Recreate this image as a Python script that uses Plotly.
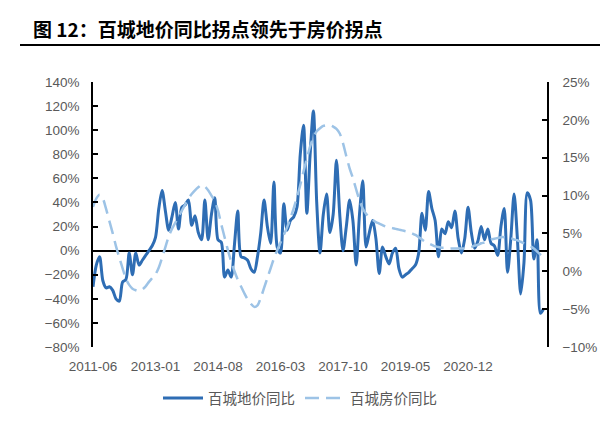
import pandas as pd
import plotly.graph_objects as go

# Monthly categories 2011-06 .. 2022-11
months = list(pd.date_range("2011-06-01", periods=138, freq="MS").strftime("%Y-%m"))
tick_labels = ["2011-06", "2013-01", "2014-08", "2016-03", "2017-10", "2019-05", "2020-12"]

# 百城地价同比 (left axis, %)
land_yoy = [
    -30, -12, -5, -25, -31, -30, -33, -40, -42, -26,
    -24, -2, -20, -2, -12, -8, -4, 0, 4, 11,
    35, 50, 33, 17, 28, 40, 18, 36, 38, 42,
    21, 29, 15, 9, 42, 9, 30, 44, 9, 7,
    -22, -16, -22, 5, 33, -5, -6, -8, -15, -18,
    -5, 15, 42, 20, 6, 57, 3, -2, 39, 17,
    25, 28, 36, 80, 104, 31, 80, 116, 40, -2,
    30, 47, 15, 30, 75, 30, 0, 20, 42, 25,
    -12, 30, 58, 3, 15, 25, 10, -19, 3, -5,
    -11, -2, 2, -15, -22, -20, -18, -15, -12, -2,
    31, 17, 49, 35, 25, -5, 18, 14, 24, 19,
    33, 10, -2, 10, 36, 15, 2, 8, 20, 9,
    18, 6, 4, -4, 20, 35, -18, 10, 47, 10,
    -36, -10, 48, 42, -7, 9, -52, -48,
]

# 百城房价同比 (right axis, %)
house_yoy = [
    8.5, 9.6, 10.1, 9.6, 8.2, 6.6, 5.0, 3.3, 1.8, 0.4,
    -1.0, -1.8, -2.3, -2.5, -2.6, -2.4, -2.0, -1.4, -0.9, -0.4,
    0.5, 1.8, 3.2, 4.6, 5.6, 6.4, 7.2, 8.0, 8.8, 9.6,
    10.2, 10.7, 11.1, 11.4, 11.2, 10.7, 10.0, 9.3, 8.0, 6.2,
    4.5, 2.8, 1.3, 0.0, -1.1, -2.0, -2.9, -3.7, -4.3, -4.7,
    -4.5, -3.5, -2.2, -0.9, 0.4, 1.7, 2.8, 3.8, 4.8, 5.8,
    7.0, 8.3, 9.8, 11.4, 13.2, 14.9, 16.5, 17.7, 18.5, 18.9,
    19.2, 19.3, 19.3, 19.1, 18.8, 18.2, 16.9, 15.2, 13.6, 12.3,
    10.8, 9.4, 8.3, 7.6, 7.1, 6.8, 6.5, 6.3, 6.1, 5.9,
    5.8, 5.7, 5.6, 5.5, 5.4, 5.3, 5.2, 5.0, 4.8, 4.5,
    4.2, 3.9, 3.7, 3.5, 3.3, 3.2, 3.1, 3.1, 3.0, 3.0,
    3.0, 3.0, 3.0, 3.0, 3.1, 3.2, 3.4, 3.5, 3.7, 3.8,
    4.0, 4.2, 4.3, 4.4, 4.5, 4.5, 4.4, 4.4, 4.2, 4.1,
    3.9, 3.7, 3.5, 3.3, 3.0, 2.6, 2.2, 1.8,
]

land_name = "百城地价同比"
house_name = "百城房价同比"
title_text = "图 12：百城地价同比拐点领先于房价拐点"

GRAY = "#595959"
LAT = "Liberation Sans, Arial, Noto Sans CJK SC"
CJK = "Noto Sans CJK SC, sans-serif"

fig = go.Figure()
fig.add_trace(go.Scatter(
    x=months, y=land_yoy, name=land_name, mode="lines",
    line=dict(color="#2E6DB4", width=3, shape="spline", smoothing=0.8),
    yaxis="y",
))
fig.add_trace(go.Scatter(
    x=months, y=house_yoy, name=house_name, mode="lines",
    line=dict(color="#9DC3E6", width=2.5, dash="14px,7px", shape="spline", smoothing=0.8),
    yaxis="y2",
))

L, R, T, B = 93, 53, 82, 93
W, H = 600, 440
pw, ph = W - L - R, H - T - B

def px_x(p):
    return (p - L) / pw

def px_y(p):
    return (H - B - p) / ph

fig.update_layout(
    width=W, height=H,
    margin=dict(l=L, r=R, t=T, b=B, pad=0, autoexpand=False),
    paper_bgcolor="white", plot_bgcolor="white",
    font=dict(family=LAT, size=13.5, color=GRAY),
    showlegend=True,
    legend=dict(
        orientation="h", x=px_x(300), xanchor="center", y=px_y(398), yanchor="middle",
        font=dict(family=CJK, size=14.5, color=GRAY),
        itemwidth=40, tracegroupgap=0, bgcolor="rgba(0,0,0,0)",
    ),
    xaxis=dict(
        type="category", range=[0, 138], automargin=False,
        tickmode="array", tickvals=tick_labels, ticktext=tick_labels,
        showline=False, showgrid=False, zeroline=False, ticks="",
        ticklabelstandoff=9,
        tickfont=dict(family=LAT, size=13.5, color=GRAY),
    ),
    yaxis=dict(
        range=[-80, 140], dtick=20, tick0=0, ticksuffix="%", automargin=False,
        showline=True, linecolor="#000000", linewidth=1.5,
        ticks="inside", ticklen=5, tickcolor="#000000", tickwidth=1.5,
        ticklabelstandoff=9,
        showgrid=False, zeroline=True, zerolinecolor="#000000", zerolinewidth=1.5,
        tickfont=dict(family=LAT, size=13.5, color=GRAY),
    ),
    yaxis2=dict(
        range=[-10, 25], dtick=5, tick0=0, ticksuffix="%", automargin=False,
        overlaying="y", side="right",
        showline=True, linecolor="#000000", linewidth=1.5,
        ticks="inside", ticklen=5, tickcolor="#000000", tickwidth=1.5,
        ticklabelstandoff=11,
        showgrid=False, zeroline=False,
        tickfont=dict(family=LAT, size=13.5, color=GRAY),
    ),
    annotations=[dict(
        text=f"<b>{title_text}</b>", xref="paper", yref="paper",
        x=px_x(31), y=px_y(28), xanchor="left", yanchor="middle",
        showarrow=False, font=dict(family=CJK, size=19, color="#000000"),
    )],
    shapes=[dict(
        type="line", xref="paper", yref="paper",
        x0=px_x(20), x1=px_x(600), y0=px_y(45), y1=px_y(45),
        line=dict(color="#000000", width=2),
    )],
)

fig.write_html("out.html")
